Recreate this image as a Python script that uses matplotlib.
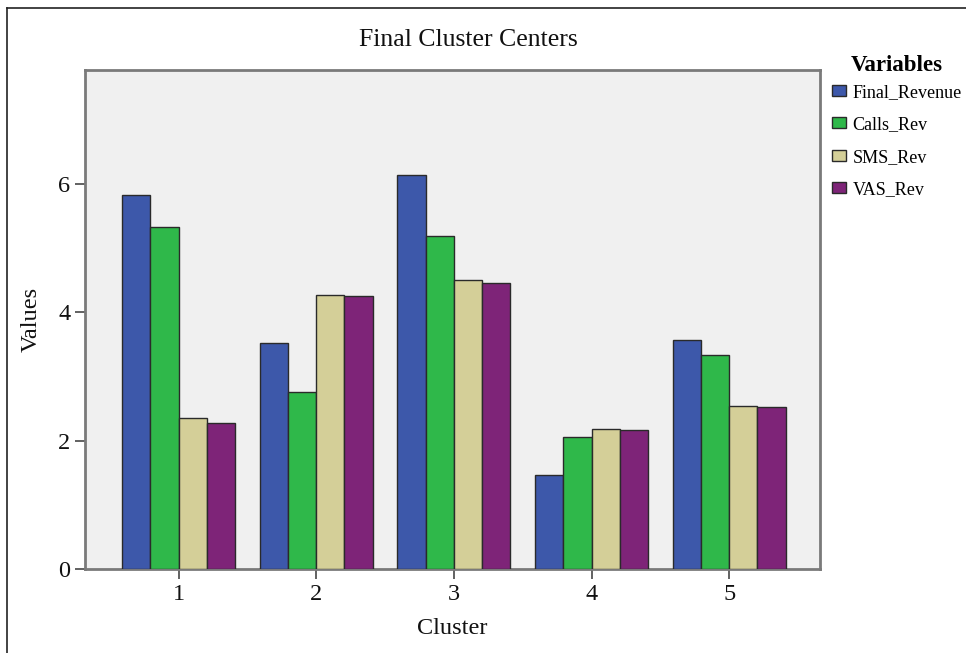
import matplotlib
matplotlib.use("Agg")
import matplotlib.pyplot as plt
from matplotlib.lines import Line2D
import numpy as np

plt.rcParams['font.family'] = ['Liberation Serif', 'DejaVu Serif']

clusters = ["1", "2", "3", "4", "5"]
variables = ["Final_Revenue", "Calls_Rev", "SMS_Rev", "VAS_Rev"]
final_revenue = [5.83, 3.52, 6.14, 1.47, 3.56]
calls_rev = [5.33, 2.75, 5.18, 2.05, 3.34]
sms_rev = [2.35, 4.26, 4.50, 2.18, 2.54]
vas_rev = [2.28, 4.25, 4.45, 2.16, 2.52]
series = [final_revenue, calls_rev, sms_rev, vas_rev]
colors = ["#3D58AA", "#2FB84A", "#D4CF98", "#7E2478"]

W, H = 966, 653
fig = plt.figure(figsize=(W / 100, H / 100), dpi=100)
ax = fig.add_axes([85 / W, 1 - 569 / H, (820 - 85) / W, (569 - 70) / H])
ax.set_facecolor("#F0F0F0")

x = np.arange(1, len(clusters) + 1)
bw = 0.205
for i, (vals, col, name) in enumerate(zip(series, colors, variables)):
    ax.bar(x + (i - 1.5) * bw, vals, width=bw, color=col, edgecolor="#2a2a2a",
           linewidth=1.0, label=name, zorder=3)

ax.set_xlim(0.32, 5.66)
ax.set_ylim(0, 7.77)
ax.set_yticks([0, 2, 4, 6])
ax.set_xticks(x)
ax.set_xticklabels(clusters)
for s in ax.spines.values():
    s.set_color("#7a7a7a")
    s.set_linewidth(2.0)
ax.tick_params(axis="both", colors="#555555", labelcolor="#111111",
               labelsize=17.5, length=7, width=1.3)
ax.tick_params(axis="x", pad=4)

ax.set_xlabel("Cluster", fontsize=17.5, labelpad=9, color="#111111")
ax.set_ylabel("Values", fontsize=17.5, labelpad=12, color="#111111")
fig.text(468 / W, 1 - 40 / H, "Final Cluster Centers", ha="center", va="center",
         fontsize=18.5, color="#111111")

leg = fig.legend(loc="upper left", bbox_to_anchor=(819 / W, 1 - 42 / H),
                 frameon=False, fontsize=13, title="Variables",
                 title_fontproperties={"weight": "bold", "size": 16.5},
                 handlelength=0.8, handleheight=0.55, handletextpad=0.35,
                 labelspacing=0.85, borderpad=0.2)
leg._legend_box.sep = 6

# Outer frame lines
fig.add_artist(Line2D([7 / W, 7 / W], [0, 1 - 8 / H], transform=fig.transFigure,
                      color="#222222", linewidth=1.2))
fig.add_artist(Line2D([7 / W, 1], [1 - 8 / H, 1 - 8 / H], transform=fig.transFigure,
                      color="#222222", linewidth=1.2))

fig.savefig("out.png", dpi=100, facecolor="white")
